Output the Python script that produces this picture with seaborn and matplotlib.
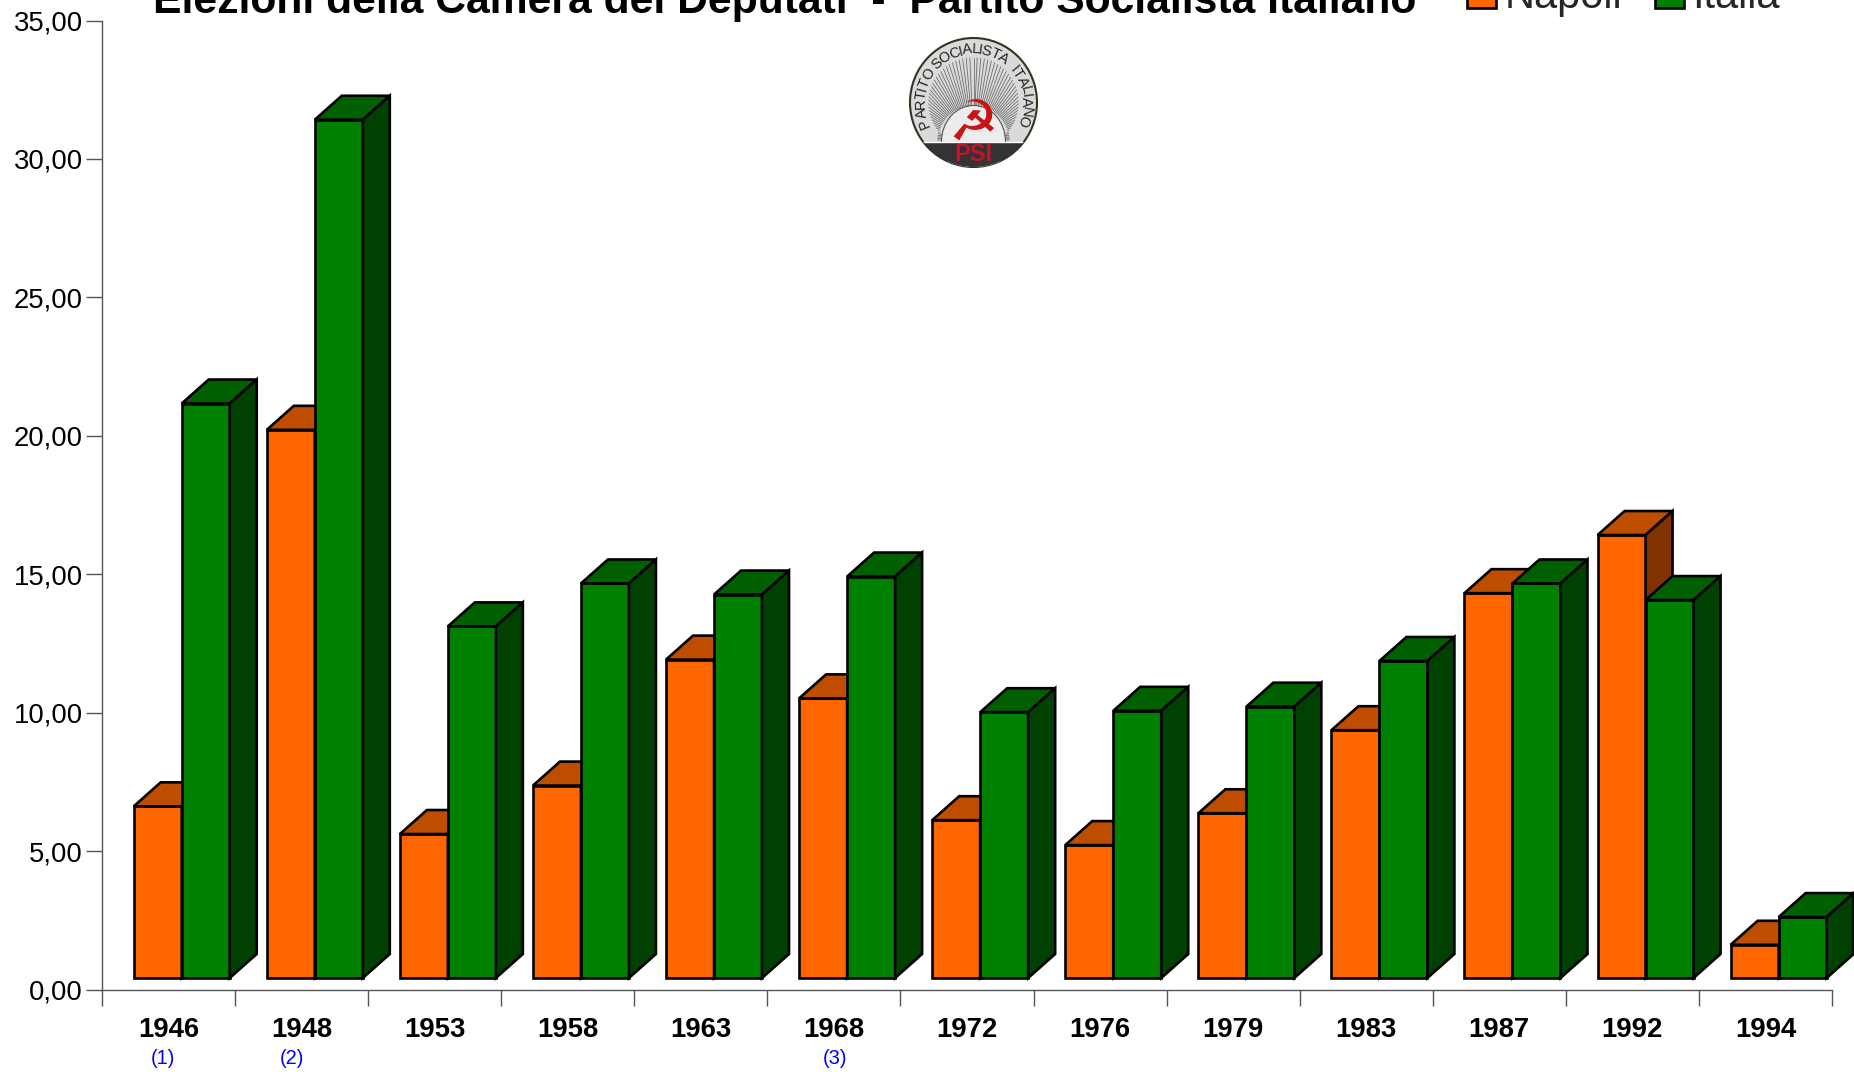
import numpy as np
import pandas as pd
import matplotlib
matplotlib.use('Agg')
import matplotlib.pyplot as plt
from matplotlib.patches import Polygon, Ellipse, Rectangle
from matplotlib.textpath import TextPath
import seaborn as sns

# Values
years = ['1946', '1948', '1953', '1958', '1963', '1968', '1972', '1976', '1979', '1983', '1987', '1992', '1994']
napoli = [6.2, 19.8, 5.2, 6.95, 11.5, 10.1, 5.7, 4.8, 5.95, 8.95, 13.9, 16.0, 1.2]
italia = [20.75, 31.0, 12.7, 14.25, 13.85, 14.5, 9.6, 9.65, 9.8, 11.45, 14.25, 13.65, 2.2]
notes = ['(1)', '(2)', '(3)']
y_ticks = [0, 5, 10, 15, 20, 25, 30, 35]

W, H = 1854, 1072
px_x = 133.08   # pixels per category
px_y = 27.69    # pixels per unit
base = 11.5 / px_y
dx = 27 / px_x
dy = 24 / px_y
edge_lw = 1.9
colors = {'Napoli': ['#FF6600', '#BF4D00', '#803300'], 'Italia': ['#008000', '#006000', '#004000']}

df = pd.DataFrame({
    'anno': years * 2,
    'serie': ['Napoli'] * len(years) + ['Italia'] * len(years),
    'valore': napoli + italia,
})

sns.set_theme(style='white')
plt.rcParams['font.family'] = ['Liberation Sans', 'DejaVu Sans']

fig = plt.figure(figsize=(W / 100, H / 100), dpi=100)
ax = fig.add_axes([102 / W, 1 - 989.5 / H, 1730 / W, 969 / H])

sns.barplot(data=df, x='anno', y='valore', hue='serie', order=years, hue_order=['Napoli', 'Italia'],
            palette={k: v[0] for k, v in colors.items()}, width=0.7213, gap=0, saturation=1,
            edgecolor='black', linewidth=edge_lw, errorbar=None, bottom=base, legend=False, ax=ax)

# 3D faces on top of each bar
for h, cont in enumerate(ax.containers):
    name = ['Napoli', 'Italia'][h]
    for p in cont.patches:
        p.set_zorder(3 + h)
        p.set_joinstyle('miter')
        x0, x1 = p.get_x(), p.get_x() + p.get_width()
        y0, y1 = p.get_y(), p.get_y() + p.get_height()
        top = [(x0, y1), (x1, y1), (x1 + dx, y1 + dy), (x0 + dx, y1 + dy)]
        side = [(x1, y0), (x1 + dx, y0 + dy), (x1 + dx, y1 + dy), (x1, y1)]
        for pts, col in [(top, colors[name][1]), (side, colors[name][2])]:
            ax.add_patch(Polygon(pts, closed=True, facecolor=col, edgecolor='black', linewidth=edge_lw,
                                 joinstyle='miter', zorder=3 + h, clip_on=False))

# axes
x_start = -0.599
ax.set_xlim(x_start, x_start + 13)
ax.set_ylim(0, 35)
ax.set_xlabel('')
ax.set_ylabel('')
sns.despine(ax=ax)
for s in ['left', 'bottom']:
    ax.spines[s].set_color('#555555')
    ax.spines[s].set_linewidth(1)
ax.set_yticks(y_ticks)
ax.set_yticklabels([f'{v:.2f}'.replace('.', ',') for v in y_ticks], fontsize=19.8, color='black')
ax.tick_params(axis='y', left=True, length=11.5, width=1, color='#555555', pad=2.5)
edges = np.arange(len(years) + 1) + x_start
ax.set_xticks(edges)
ax.set_xticklabels([])
ax.tick_params(axis='x', which='major', bottom=True, length=11.5, width=1, color='#555555')
ax.set_xticks(edges[:-1] + 0.5, minor=True)
ax.set_xticklabels(years, minor=True, fontsize=19.8, fontweight='bold', color='black')
ax.tick_params(axis='x', which='minor', bottom=False, length=0, pad=20)

# footnote marks under the years
note_px = [163, 292, 835]
for txt, xp in zip(notes, note_px):
    fig.text(xp / W, 1 - 1058 / H, txt, color='#0000FF', fontsize=14.5, ha='center', va='center')

# title, cut by the top edge as in the original
fig.text(153 / W, 1 - 12.5 / H, 'Elezioni della Camera dei Deputati  -  Partito Socialista Italiano',
         fontsize=30.7, fontweight='bold', color='black', ha='left', va='baseline')

# legend
handles = [Rectangle((0, 0), 1, 1, facecolor=colors[k][0], edgecolor='black', linewidth=edge_lw) for k in ['Napoli', 'Italia']]
ax.legend(handles, ['Napoli', 'Italia'], ncol=2, loc='lower left', bbox_to_anchor=(1467 / W, 1 - 17 / H),
          bbox_transform=fig.transFigure, frameon=False, fontsize=30, handlelength=0.7, handleheight=0.7,
          handletextpad=0.2, columnspacing=0.78, borderpad=0, borderaxespad=0)

# party badge
lg = fig.add_axes([908 / W, 1 - 168 / H, 131 / W, 131 / H])
lg.set_xlim(-65.5, 65.5)
lg.set_ylim(-65.5, 65.5)
lg.axis('off')
rim = Ellipse((0, 0), 127, 129, facecolor='#dadada', edgecolor='#333322', linewidth=1.5, zorder=1)
lg.add_patch(rim)
# rays from the emblem out to the ring of letters
cy, ring = -39, 45
for a in np.radians(np.arange(0, 180.1, 2.5)):
    reach = -cy * np.sin(a) + np.sqrt((cy * np.sin(a)) ** 2 + ring ** 2 - cy ** 2)
    lg.plot([36 * np.cos(a), reach * np.cos(a)], [cy + 36 * np.sin(a), cy + reach * np.sin(a)],
            color='#666666', lw=0.55, zorder=2)
arch = Ellipse((0, cy), 64, 72, facecolor='#ececec', edgecolor='#555555', linewidth=0.8, zorder=3)
lg.add_patch(arch)
arch.set_clip_path(rim)
band = Rectangle((-65.5, -66), 131, 27, facecolor='#333333', zorder=4)
lg.add_patch(band)
band.set_clip_path(rim)
lg.text(0, -22, '☭', color='#C81414', fontsize=40, ha='center', va='center', zorder=5, family='DejaVu Sans')
lg.text(0, -52, 'PSI', color='#C4122A', fontsize=17, fontweight='bold', ha='center', va='center', zorder=6)
# party name set on an arc, letters spaced by their own width
label = 'PARTITO SOCIALISTA  ITALIANO'
fs_px = 14.5
adv = np.array([0.3 if c == ' ' else TextPath((0, 0), c, size=1, prop='Liberation Sans').get_extents().width + 0.1 for c in label])
mid = np.cumsum(adv) - adv / 2
angles = 207 - (mid / adv.sum()) * 233
for ch, a in zip(label, angles):
    t = np.radians(a)
    lg.text(53 * np.cos(t), 53 * np.sin(t), ch, fontsize=fs_px / 1.389, color='#222222', rotation=a - 90,
            rotation_mode='anchor', ha='center', va='center', zorder=6)

fig.savefig('out.png', dpi=100)
